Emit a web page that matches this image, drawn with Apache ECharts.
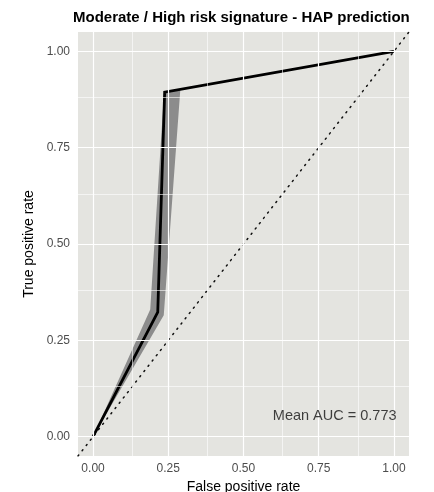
<!DOCTYPE html>
<html>
<head>
<meta charset="utf-8">
<script src="https://cdn.jsdelivr.net/npm/echarts@6/dist/echarts.min.js"></script>
<style>
html,body{margin:0;padding:0;background:#fff;}
#c{width:434px;height:492px;}
</style>
</head>
<body>
<div id="c"></div>
<script>
// ---- data ----
const titleText = 'Moderate / High risk signature - HAP prediction';
const xName = 'False positive rate';
const yName = 'True positive rate';
const majorTicks = [0, 0.25, 0.5, 0.75, 1];
const minorTicks = [0.125, 0.375, 0.625, 0.875];
// mean ROC curve
const rocFpr = [0, 0.215, 0.238, 1];
const rocTpr = [0, 0.323, 0.894, 1];
// confidence band (left and right boundaries)
const bandLeftFpr = [0, 0.19, 0.236];
const bandLeftTpr = [0, 0.33, 0.894];
const bandRightFpr = [0, 0.235, 0.29];
const bandRightTpr = [0, 0.315, 0.9];
// chance diagonal
const diagFpr = [-0.05, 1.05];
const diagTpr = [-0.05, 1.05];
const aucLabel = 'Mean AUC = 0.773';
const aucPos = [0.803, 0.055];

// ---- build ----
const rocData = rocFpr.map((x, i) => [x, rocTpr[i]]);
const diagData = diagFpr.map((x, i) => [x, diagTpr[i]]);
const bandPoly = bandLeftFpr.map((x, i) => [x, bandLeftTpr[i]])
  .concat(bandRightFpr.map((x, i) => [x, bandRightTpr[i]]).reverse());

const gridLines = [];
majorTicks.forEach(v => { gridLines.push({xAxis: v, lineStyle: {width: 1.2}}); gridLines.push({yAxis: v, lineStyle: {width: 1.2}}); });
minorTicks.forEach(v => { gridLines.push({xAxis: v, lineStyle: {width: 0.6}}); gridLines.push({yAxis: v, lineStyle: {width: 0.6}}); });

const FONT = '"Liberation Sans", Arial, sans-serif';
const chart = echarts.init(document.getElementById('c'), null, {renderer: 'canvas'});
const axisCommon = {
  type: 'value', min: -0.05, max: 1.05,
  nameLocation: 'middle',
  nameTextStyle: {color: '#000', fontSize: 14, fontFamily: FONT},
  axisLine: {show: false},
  splitLine: {show: false},
  axisTick: {show: true, length: 3, lineStyle: {color: '#444', width: 1}, customValues: majorTicks},
  axisLabel: {color: '#4d4d4d', fontSize: 12, fontFamily: FONT, customValues: majorTicks,
    formatter: v => v.toFixed(2)}
};
chart.setOption({
  animation: false,
  backgroundColor: '#fff',
  title: {text: titleText, left: 68, top: 5,
    textStyle: {fontSize: 15, fontWeight: 'bold', color: '#000', fontFamily: FONT}},
  grid: {left: 78, right: 25, top: 32, bottom: 36, show: true, backgroundColor: '#e4e4e0', borderWidth: 0,
    containLabel: false, outerBoundsMode: 'none'},
  xAxis: Object.assign({}, axisCommon, {name: xName, nameGap: 22,
    axisLabel: Object.assign({}, axisCommon.axisLabel, {margin: 7})}),
  yAxis: Object.assign({}, axisCommon, {name: yName, nameGap: 32,
    axisLabel: Object.assign({}, axisCommon.axisLabel, {margin: 8})}),
  series: [
    {
      type: 'line', data: [], silent: true, z: 1,
      markLine: {silent: true, symbol: 'none', label: {show: false}, animation: false,
        lineStyle: {color: '#ffffff', type: 'solid'}, data: gridLines}
    },
    {
      type: 'custom', z: 2, silent: true,
      data: [[0, 0]],
      renderItem: (params, api) => ({
        type: 'polygon',
        shape: {points: bandPoly.map(p => api.coord(p))},
        style: {fill: '#8c8c8c'}
      })
    },
    {
      type: 'line', data: diagData, z: 3, symbol: 'none', silent: true,
      lineStyle: {color: '#111', width: 1.5, type: [1.2, 5.5], cap: 'round'}
    },
    {
      type: 'line', data: rocData, z: 4, symbol: 'none', silent: true,
      lineStyle: {color: '#000', width: 2.8, join: 'miter'}
    },
    {
      type: 'scatter', data: [aucPos], symbolSize: 0, z: 5, silent: true,
      label: {show: true, position: 'inside', formatter: aucLabel, color: '#111', fontSize: 14.5, fontFamily: FONT}
    }
  ]
});
</script>
</body>
</html>
